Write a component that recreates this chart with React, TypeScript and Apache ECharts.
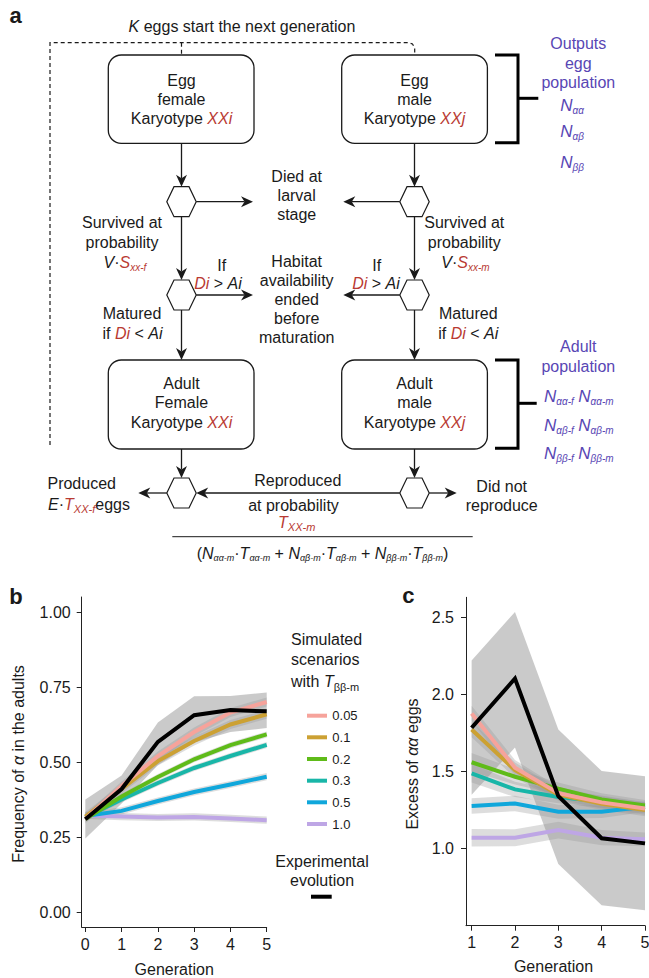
import React, { useEffect, useRef } from 'react';
import * as echarts from 'echarts';

const FONT = '"Liberation Sans", Arial, Helvetica, sans-serif';
const INK = '#1a1a1a';
const RED = '#B93A32';
const PURPLE = '#5846B4';

// ---------- Panel b data ----------
const bGenerations = [0, 1, 2, 3, 4, 5];
const bTickValuesY = [0, 0.25, 0.5, 0.75, 1.0];
const scenarioLabels = ['0.05', '0.1', '0.2', '0.3', '0.5', '1.0'];
const scenarioColors = ['#F6A39B', '#CCA133', '#5FBB19', '#19B6A8', '#10A7DB', '#BEA6E5'];
const bPink = [0.31, 0.42, 0.52, 0.6, 0.665, 0.7];
const bGold = [0.318, 0.41, 0.503, 0.57, 0.625, 0.659];
const bGreen = [0.31, 0.385, 0.45, 0.509, 0.556, 0.592];
const bTeal = [0.315, 0.375, 0.43, 0.48, 0.52, 0.557];
const bBlue = [0.32, 0.337, 0.37, 0.4, 0.425, 0.451];
const bPurple = [0.322, 0.318, 0.315, 0.317, 0.312, 0.306];
const bSimHalfWidth = [0.015, 0.015, 0.01, 0.01, 0.012, 0.012];
const bExperimental = [0.309, 0.41, 0.567, 0.656, 0.673, 0.669];
const bExpLow = [0.245, 0.362, 0.49, 0.565, 0.6, 0.613];
const bExpHigh = [0.375, 0.455, 0.632, 0.719, 0.72, 0.732];

// ---------- Panel c data ----------
const cGenerations = [1, 2, 3, 4, 5];
const cTickValuesY = [1.0, 1.5, 2.0, 2.5];
const cPink = [1.876, 1.525, 1.36, 1.3, 1.26];
const cGold = [1.773, 1.509, 1.35, 1.29, 1.25];
const cGreen = [1.56, 1.466, 1.389, 1.319, 1.28];
const cTeal = [1.488, 1.384, 1.335, 1.305, 1.266];
const cBlue = [1.276, 1.293, 1.239, 1.239, 1.272];
const cPurple = [1.071, 1.071, 1.12, 1.071, 1.06];
const cPinkHw = [0.05, 0.05, 0.04, 0.04, 0.04];
const cGoldHw = [0.05, 0.05, 0.04, 0.04, 0.04];
const cGreenHw = [0.06, 0.05, 0.04, 0.04, 0.035];
const cTealHw = [0.06, 0.05, 0.04, 0.04, 0.035];
const cBlueHw = [0.05, 0.05, 0.045, 0.04, 0.035];
const cPurpleHw = [0.057, 0.055, 0.055, 0.05, 0.045];
const cExperimental = [1.784, 2.103, 1.34, 1.067, 1.034];
const cExpLow = [1.35, 1.655, 0.9, 0.633, 0.6];
const cExpHigh = [2.22, 2.535, 1.773, 1.503, 1.47];

type Part = { t: string; s?: number; i?: boolean; b?: boolean; c?: string; dy?: number };
const P = (t: string, o: Partial<Part> = {}): Part => ({ t, ...o });

let mctx: CanvasRenderingContext2D | null = null;
function fontOf(p: Part, base: number) {
  return `${p.i ? 'italic ' : ''}${p.b ? 'bold ' : ''}${p.s ?? base}px ${FONT}`;
}
function measure(p: Part, base: number) {
  if (!mctx) mctx = document.createElement('canvas').getContext('2d');
  if (!mctx) return p.t.length * base * 0.55;
  mctx.font = fontOf(p, base);
  return mctx.measureText(p.t).width;
}
function runs(
  cx: number,
  cy: number,
  parts: Part[],
  opt: { align?: 'center' | 'left' | 'right'; rot?: number; color?: string; size?: number } = {}
) {
  const base = opt.size ?? 16;
  const widths = parts.map((p) => measure(p, base));
  const total = widths.reduce((a, b) => a + b, 0);
  let x = opt.align === 'left' ? 0 : opt.align === 'right' ? -total : -total / 2;
  const children = parts.map((p, i) => {
    const el = {
      type: 'text',
      x,
      y: p.dy ?? 0,
      silent: true,
      style: {
        text: p.t,
        fill: p.c ?? opt.color ?? INK,
        fontSize: p.s ?? base,
        fontFamily: FONT,
        fontStyle: p.i ? 'italic' : 'normal',
        fontWeight: p.b ? 'bold' : 'normal',
        textAlign: 'left',
        textVerticalAlign: 'middle',
      },
    };
    x += widths[i];
    return el;
  });
  return { type: 'group', x: cx, y: cy, rotation: opt.rot ?? 0, children };
}
const line1 = (cx: number, cy: number, t: string, o: any = {}) => runs(cx, cy, [P(t)], o);

function arrow(x1: number, y1: number, x2: number, y2: number) {
  const dx = x2 - x1, dy = y2 - y1;
  const L = Math.hypot(dx, dy);
  const ux = dx / L, uy = dy / L;
  const nx = -uy, ny = ux;
  const hl = 12, hw = 5.5, notch = 8.5;
  return [
    { type: 'line', silent: true, shape: { x1, y1, x2: x2 - ux * notch, y2: y2 - uy * notch }, style: { stroke: INK, lineWidth: 1.3 } },
    {
      type: 'polygon',
      silent: true,
      shape: {
        points: [
          [x2, y2],
          [x2 - ux * hl + nx * hw, y2 - uy * hl + ny * hw],
          [x2 - ux * notch, y2 - uy * notch],
          [x2 - ux * hl - nx * hw, y2 - uy * hl - ny * hw],
        ],
      },
      style: { fill: INK },
    },
  ];
}
function hex(cx: number, cy: number) {
  return {
    type: 'polygon',
    silent: true,
    shape: { points: [[cx - 14.7, cy], [cx - 7.5, cy - 15], [cx + 7.5, cy - 15], [cx + 14.7, cy], [cx + 7.5, cy + 15], [cx - 7.5, cy + 15]] },
    style: { fill: '#fff', stroke: INK, lineWidth: 1.2 },
  };
}
function box(x: number, y: number, w: number, h: number) {
  return { type: 'rect', silent: true, shape: { x, y, width: w, height: h, r: 13 }, style: { fill: '#fff', stroke: INK, lineWidth: 1.3 } };
}

function buildGraphics() {
  const els: any[] = [];
  const fx = 181.5, mx = 414.5;
  // panel letters
  els.push(runs(15.5, 15, [P('a', { b: true, s: 22 })]));
  els.push(runs(16, 596.7, [P('b', { b: true, s: 22 })]));
  els.push(runs(408.3, 595, [P('c', { b: true, s: 22 })]));

  // dashed loop
  els.push({
    type: 'polyline', silent: true,
    shape: { points: [[50, 445], [50, 42.7], [408, 42.7], [412.5, 44], [414.7, 48], [414.7, 55]] },
    style: { stroke: INK, lineWidth: 1.2, lineDash: [4, 3], fill: 'none' },
  });
  els.push({ type: 'line', silent: true, shape: { x1: fx, y1: 42.7, x2: fx, y2: 55 }, style: { stroke: INK, lineWidth: 1.2, lineDash: [4, 3] } });
  els.push(runs(242, 26, [P('K', { i: true }), P(' eggs start the next generation')]));

  // arrows
  const arrows = [
    arrow(fx, 143.3, fx, 186.7), arrow(fx, 216.7, fx, 280), arrow(fx, 310, fx, 360), arrow(fx, 449, fx, 478),
    arrow(mx, 143.3, mx, 186.7), arrow(mx, 216.7, mx, 280), arrow(mx, 310, mx, 360), arrow(mx, 449, mx, 478),
    arrow(fx + 14.7, 201.7, 253, 201.7), arrow(fx + 14.7, 295, 253, 295),
    arrow(mx - 14.7, 201.7, 343.3, 201.7), arrow(mx - 14.7, 295, 343.3, 295),
    arrow(fx - 14.7, 493, 138.3, 493), arrow(mx + 14.7, 493, 456.7, 493), arrow(mx - 14.7, 493, fx + 14.7, 493),
  ];
  arrows.forEach((a) => els.push(...a));

  // boxes
  els.push(box(108.3, 55, 145.7, 88.3), box(341.7, 55, 145.7, 88.3), box(108.3, 360, 145.7, 89), box(341.7, 360, 145.7, 89));
  // hexagons
  [201.7, 295, 493].forEach((y) => { els.push(hex(fx, y), hex(mx, y)); });

  // box texts
  els.push(line1(fx, 80, 'Egg'), line1(fx, 99.5, 'female'), runs(fx, 118.5, [P('Karyotype '), P('XXi', { i: true, c: RED })]));
  els.push(line1(mx, 80, 'Egg'), line1(mx, 99.5, 'male'), runs(mx, 118.5, [P('Karyotype '), P('XXj', { i: true, c: RED })]));
  els.push(line1(fx, 383, 'Adult'), line1(fx, 402.5, 'Female'), runs(fx, 422, [P('Karyotype '), P('XXi', { i: true, c: RED })]));
  els.push(line1(mx, 383, 'Adult'), line1(mx, 402.5, 'male'), runs(mx, 422, [P('Karyotype '), P('XXj', { i: true, c: RED })]));

  // middle column
  els.push(line1(296.7, 176, 'Died at'), line1(296.7, 195, 'larval'), line1(296.7, 214, 'stage'));
  els.push(line1(296.7, 261, 'Habitat'), line1(296.7, 280, 'availability'), line1(296.7, 299, 'ended'), line1(296.7, 318, 'before'), line1(296.7, 337, 'maturation'));

  // female side annotations
  els.push(line1(122, 222.7, 'Survived at'), line1(122, 242.7, 'probability'));
  els.push(runs(125, 262.7, [P('V', { i: true }), P('·'), P('S', { i: true, c: RED }), P('xx-f', { i: true, c: RED, s: 10, dy: 5 })]));
  els.push(line1(221.7, 265, 'If'));
  els.push(runs(218, 283.5, [P('Di', { i: true, c: RED }), P(' > '), P('Ai', { i: true })]));
  els.push(line1(132, 313.5, 'Matured'));
  els.push(runs(132.5, 333, [P('if '), P('Di', { i: true, c: RED }), P(' < '), P('Ai', { i: true })]));

  // male side annotations
  els.push(line1(464.3, 222.7, 'Survived at'), line1(464.3, 242.7, 'probability'));
  els.push(runs(465.5, 262.7, [P('V', { i: true }), P('·'), P('S', { i: true, c: RED }), P('xx-m', { i: true, c: RED, s: 10, dy: 5 })]));
  els.push(line1(376.7, 265, 'If'));
  els.push(runs(376, 283.5, [P('Di', { i: true, c: RED }), P(' > '), P('Ai', { i: true })]));
  els.push(line1(468.3, 313.5, 'Matured'));
  els.push(runs(468.3, 333, [P('if '), P('Di', { i: true, c: RED }), P(' < '), P('Ai', { i: true })]));

  // bottom row
  els.push(line1(81.7, 483.5, 'Produced'));
  els.push(runs(89, 504, [P('E', { i: true }), P('·'), P('T', { i: true, c: RED }), P('XX-f', { i: true, c: RED, s: 11, dy: 5 }), P('eggs')]));
  els.push(line1(297.8, 480, 'Reproduced'), line1(293.5, 505, 'at probability'));
  els.push(runs(296.7, 522.5, [P('T', { i: true, c: RED }), P('XX-m', { i: true, c: RED, s: 11, dy: 4 })]));
  els.push({ type: 'line', silent: true, shape: { x1: 172.3, y1: 536.7, x2: 472.7, y2: 536.7 }, style: { stroke: INK, lineWidth: 1 } });
  const sub = (t: string) => P(t, { i: true, s: 9, dy: 5 });
  els.push(runs(322.5, 553.3, [
    P('('), P('N', { i: true }), sub('αα-m'), P('·'), P('T', { i: true }), sub('αα-m'), P(' + '),
    P('N', { i: true }), sub('αβ-m'), P('·'), P('T', { i: true }), sub('αβ-m'), P(' + '),
    P('N', { i: true }), sub('ββ-m'), P('·'), P('T', { i: true }), sub('ββ-m'), P(')'),
  ]));
  els.push(line1(501.7, 486.7, 'Did not'), line1(501.7, 505.7, 'reproduce'));

  // brackets
  els.push({ type: 'polyline', silent: true, shape: { points: [[495, 55], [518, 55], [518, 142.7], [495, 142.7]] }, style: { stroke: '#000', lineWidth: 3, fill: 'none' } });
  els.push({ type: 'line', silent: true, shape: { x1: 518, y1: 98.3, x2: 538.3, y2: 98.3 }, style: { stroke: '#000', lineWidth: 3 } });
  els.push({ type: 'polyline', silent: true, shape: { points: [[495, 360], [518, 360], [518, 448.3], [495, 448.3]] }, style: { stroke: '#000', lineWidth: 3, fill: 'none' } });
  els.push({ type: 'line', silent: true, shape: { x1: 518, y1: 403.3, x2: 536.7, y2: 403.3 }, style: { stroke: '#000', lineWidth: 3 } });

  // purple annotations
  const pc = { color: PURPLE };
  els.push(line1(578.3, 43.3, 'Outputs', pc), line1(578.3, 63.3, 'egg', pc), line1(578.3, 82.7, 'population', pc));
  const nsub = (t: string) => P(t, { i: true, s: 10, dy: 5 });
  els.push(runs(572, 105, [P('N', { i: true, s: 17 }), nsub('αα')], pc));
  els.push(runs(572, 131.7, [P('N', { i: true, s: 17 }), nsub('αβ')], pc));
  els.push(runs(572, 162.7, [P('N', { i: true, s: 17 }), nsub('ββ')], pc));
  els.push(line1(578.3, 346.7, 'Adult', pc), line1(578.3, 366.7, 'population', pc));
  [['αα', 396.7], ['αβ', 425], ['ββ', 453.3]].forEach(([g, y]) => {
    els.push(runs(578.8, y as number, [P('N', { i: true, s: 17 }), nsub(`${g}-f`), P(' '), P('N', { i: true, s: 17 }), nsub(`${g}-m`)], pc));
  });

  // panel b legend
  els.push(line1(291, 639, 'Simulated', { align: 'left' }), line1(291, 659, 'scenarios', { align: 'left' }));
  els.push(runs(291, 681.7, [P('with '), P('T', { i: true }), P('ββ-m', { s: 11, dy: 5 })], { align: 'left' }));
  const legY = [715.7, 737.3, 759, 780.7, 802.3, 824];
  scenarioLabels.forEach((lab, i) => {
    els.push({ type: 'line', silent: true, shape: { x1: 307, y1: legY[i], x2: 327, y2: legY[i] }, style: { stroke: scenarioColors[i], lineWidth: 4 } });
    els.push(runs(332.3, legY[i], [P(lab, { s: 13 })], { align: 'left' }));
  });
  els.push(line1(322, 861.7, 'Experimental'), line1(322, 880.7, 'evolution'));
  els.push({ type: 'line', silent: true, shape: { x1: 311, y1: 896.7, x2: 331.7, y2: 896.7 }, style: { stroke: '#000', lineWidth: 4 } });

  // axis names
  els.push(line1(174.2, 969.5, 'Generation'));
  els.push(line1(553.5, 966.5, 'Generation'));
  els.push(runs(18.3, 764, [P('Frequency of '), P('α', { i: true }), P(' in the adults')], { rot: Math.PI / 2 }));
  els.push(runs(412, 764, [P('Excess of '), P('αα', { i: true }), P(' eggs')], { rot: Math.PI / 2 }));
  return els;
}

function bandSeries(xs: number[], lo: number[], hi: number[], color: string, idx: number, z: number) {
  return {
    type: 'custom',
    xAxisIndex: idx,
    yAxisIndex: idx,
    z,
    silent: true,
    data: xs.map((x, i) => [x, lo[i], hi[i]]),
    renderItem: (params: any, api: any) => {
      if (params.dataIndex !== 0) return null;
      const top = xs.map((x, i) => api.coord([x, hi[i]]));
      const bot = xs.map((x, i) => api.coord([x, lo[i]])).reverse();
      return { type: 'polygon', shape: { points: [...top, ...bot] }, style: { fill: color } };
    },
  };
}
function lineSeries(xs: number[], ys: number[], color: string, idx: number, z: number, name: string) {
  return {
    type: 'line',
    name,
    xAxisIndex: idx,
    yAxisIndex: idx,
    z,
    silent: true,
    symbol: 'none',
    data: xs.map((x, i) => [x, ys[i]]),
    lineStyle: { color, width: 4, cap: 'butt', join: 'miter' },
  };
}

const axisBase = {
  axisLine: { show: true, onZero: false, lineStyle: { color: '#222', width: 1 } },
  splitLine: { show: false },
};

export default function App() {
  const ref = useRef<HTMLDivElement>(null);
  useEffect(() => {
    if (!ref.current) return;
    const chart = echarts.init(ref.current, undefined, { renderer: 'svg' });
    const bSims = [bPink, bGold, bGreen, bTeal, bBlue, bPurple];
    const cSims = [cPink, cGold, cGreen, cTeal, cBlue, cPurple];
    const cHws = [cPinkHw, cGoldHw, cGreenHw, cTealHw, cBlueHw, cPurpleHw];
    const SIM_BAND = 'rgba(150,150,150,0.32)';
    const EXP_BAND = 'rgba(150,150,150,0.5)';
    const series: any[] = [];
    series.push(bandSeries(bGenerations, bExpLow, bExpHigh, EXP_BAND, 0, 1));
    bSims.forEach((s, k) => series.push(bandSeries(bGenerations, s.map((v) => v - bSimHalfWidth[k]), s.map((v) => v + bSimHalfWidth[k]), SIM_BAND, 0, 1)));
    cSims.forEach((s, k) => series.push(bandSeries(cGenerations, s.map((v, i) => v - cHws[k][i]), s.map((v, i) => v + cHws[k][i]), SIM_BAND, 1, 1)));
    series.push(bandSeries(cGenerations, cExpLow, cExpHigh, EXP_BAND, 1, 1));
    for (let k = bSims.length - 1; k >= 0; k--) series.push(lineSeries(bGenerations, bSims[k], scenarioColors[k], 0, 2, scenarioLabels[k]));
    for (let k = cSims.length - 1; k >= 0; k--) series.push(lineSeries(cGenerations, cSims[k], scenarioColors[k], 1, 2, scenarioLabels[k]));
    series.push(lineSeries(bGenerations, bExperimental, '#000', 0, 3, 'Experimental'));
    series.push(lineSeries(cGenerations, cExperimental, '#000', 1, 3, 'Experimental'));

    const labelStyle = { color: INK, fontSize: 16, fontFamily: FONT };
    chart.setOption({
      animation: false,
      backgroundColor: '#fff',
      grid: [
        { left: 81.7, top: 597, width: 185, height: 330, containLabel: false, outerBoundsMode: 'none' },
        { left: 466, top: 597.3, width: 179, height: 328.4, containLabel: false, outerBoundsMode: 'none' },
      ],
      xAxis: [
        {
          ...axisBase, type: 'value', gridIndex: 0, min: -0.1, max: 5,
          axisTick: { show: true, length: 5, customValues: bGenerations, lineStyle: { color: '#222' } },
          axisLabel: { ...labelStyle, margin: 9, customValues: bGenerations, formatter: (v: number) => String(Math.round(v)) },
        },
        {
          ...axisBase, type: 'value', gridIndex: 1, min: 0.87, max: 5,
          axisTick: { show: true, length: 5, customValues: cGenerations, lineStyle: { color: '#222' } },
          axisLabel: { ...labelStyle, margin: 9, customValues: cGenerations, formatter: (v: number) => String(Math.round(v)) },
        },
      ],
      yAxis: [
        {
          ...axisBase, type: 'value', gridIndex: 0, min: -0.05, max: 1.05,
          axisTick: { show: true, length: 5, customValues: bTickValuesY, lineStyle: { color: '#222' } },
          axisLabel: { ...labelStyle, margin: 11, customValues: bTickValuesY, formatter: (v: number) => v.toFixed(2) },
        },
        {
          ...axisBase, type: 'value', gridIndex: 1, min: 0.5, max: 2.63,
          axisTick: { show: true, length: 5, customValues: cTickValuesY, lineStyle: { color: '#222' } },
          axisLabel: { ...labelStyle, margin: 12, customValues: cTickValuesY, formatter: (v: number) => v.toFixed(1) },
        },
      ],
      series,
      graphic: { elements: buildGraphics() },
    });
    return () => chart.dispose();
  }, []);
  return <div ref={ref} style={{ position: 'fixed', left: 0, top: 0, width: 649, height: 978, background: '#fff' }} />;
}
